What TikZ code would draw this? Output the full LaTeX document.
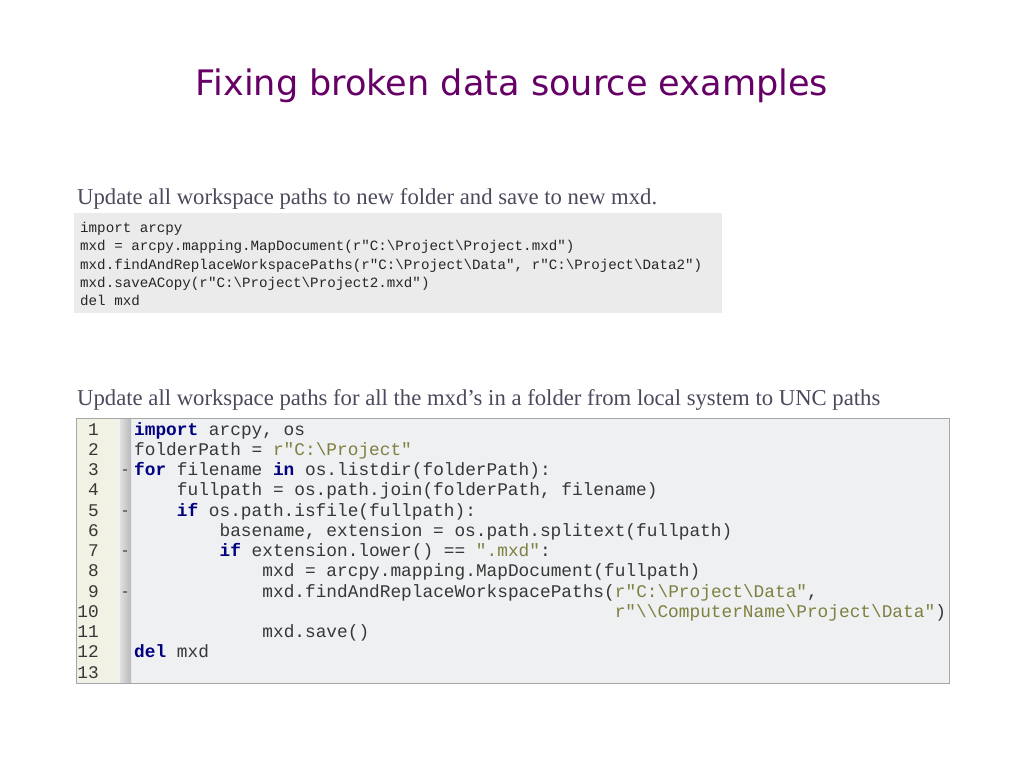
\documentclass[tikz,border=0pt]{standalone}
\usepackage{fontspec}
\setmainfont{Liberation Serif}
\setmonofont{Liberation Mono}
\newfontfamily\titlefont{DejaVu Sans}
\definecolor{titlepurple}{RGB}{102,0,102}
\definecolor{subgray}{RGB}{74,74,92}
\definecolor{boxgray}{RGB}{235,235,235}
\definecolor{editbg}{RGB}{238,240,242}
\definecolor{gutterbg}{RGB}{242,242,228}
\definecolor{codegray}{RGB}{55,55,55}
\definecolor{kwblue}{RGB}{0,0,128}
\definecolor{strolive}{RGB}{128,128,64}
\newcommand{\kw}[1]{\textcolor{kwblue}{\textbf{#1}}}
\newcommand{\strg}[1]{\textcolor{strolive}{#1}}
\newcommand{\bsl}{\textbackslash}
\tikzset{
  subtitle/.style={anchor=base west, inner sep=0pt, text=subgray, font=\fontsize{22.7}{26}\selectfont},
  smallcode/.style={anchor=base west, inner sep=0pt, text=black!85, font=\ttfamily\fontsize{14.2}{16}\selectfont},
  bigcode/.style={anchor=base west, inner sep=0pt, text=codegray, font=\ttfamily\fontsize{17.8}{20}\selectfont},
  linenum/.style={anchor=base east, inner sep=0pt, text=codegray, font=\ttfamily\fontsize{17.8}{20}\selectfont},
  foldmark/.style={anchor=base, inner sep=0pt, text=codegray, font=\ttfamily\fontsize{15}{18}\selectfont}
}
\begin{document}
\begin{tikzpicture}[x=1pt,y=-1pt]
            \useasboundingbox (0,0) rectangle (1024,768);%
            
            % Title
            \node (title) [anchor=base, inner sep=0pt, text=titlepurple, font=\titlefont\fontsize{35.1}{40}\selectfont] at (512,95) {Fixing broken data source examples};%
            
            % First example
            \node (sub1) [subtitle] at (77,204) {Update all workspace paths to new folder and save to new mxd.};%
            \fill [boxgray] (74,213) rectangle (722,313);%
            \node (a1) [smallcode] at (80,232) {import arcpy};%
            \node (a2) [smallcode] at (80,250) {mxd = arcpy.mapping.MapDocument(r"C:\bsl Project\bsl Project.mxd")};%
            \node (a3) [smallcode] at (80,269) {mxd.findAndReplaceWorkspacePaths(r"C:\bsl Project\bsl Data", r"C:\bsl Project\bsl Data2")};%
            \node (a4) [smallcode] at (80,287) {mxd.saveACopy(r"C:\bsl Project\bsl Project2.mxd")};%
            \node (a5) [smallcode] at (80,305) {del mxd};%
            
            % Second example
            \node (sub2) [subtitle] at (77,405) {Update all workspace paths for all the mxd’s in a folder from local system to UNC paths};%
            \filldraw [fill=editbg, draw=gray!70, line width=1pt] (76,418) rectangle (949,683);%
            \fill [gutterbg] (77,419) rectangle (118,682);%
            \shade [left color=gray!25, right color=gray!55] (120,419) rectangle (131,682);%
            
            % Line numbers
            \foreach \n in {1,...,13}
              \node (n\n) [linenum] at (99,{429+20.25*(\n-1)+6}) {\n};%
            
            % Fold markers
            \foreach \n in {3,5,7,9}
              \node (f\n) [foldmark] at (125,{429+20.25*(\n-1)+5}) {-};%
            
            % Code lines
            \node (b1) [bigcode] at (134,435) {\kw{import} arcpy, os};%
            \node (b2) [bigcode] at (134,455.25) {folderPath = \strg{r"C:\bsl Project"}};%
            \node (b3) [bigcode] at (134,475.5) {\kw{for} filename \kw{in} os.listdir(folderPath):};%
            \node (b4) [bigcode] at (176.7,495.75) {fullpath = os.path.join(folderPath, filename)};%
            \node (b5) [bigcode] at (176.7,516) {\kw{if} os.path.isfile(fullpath):};%
            \node (b6) [bigcode] at (219.4,536.25) {basename, extension = os.path.splitext(fullpath)};%
            \node (b7) [bigcode] at (219.4,556.5) {\kw{if} extension.lower() == \strg{".mxd"}:};%
            \node (b8) [bigcode] at (262.2,576.75) {mxd = arcpy.mapping.MapDocument(fullpath)};%
            \node (b9) [bigcode] at (262.2,597) {mxd.findAndReplaceWorkspacePaths(\strg{r"C:\bsl Project\bsl Data"},};%
            \node (b10) [bigcode] at (614.6,617.25) {\strg{r"\bsl\bsl ComputerName\bsl Project\bsl Data"})};%
            \node (b11) [bigcode] at (262.2,637.5) {mxd.save()};%
            \node (b12) [bigcode] at (134,657.75) {\kw{del} mxd};%
\end{tikzpicture}
\end{document}
